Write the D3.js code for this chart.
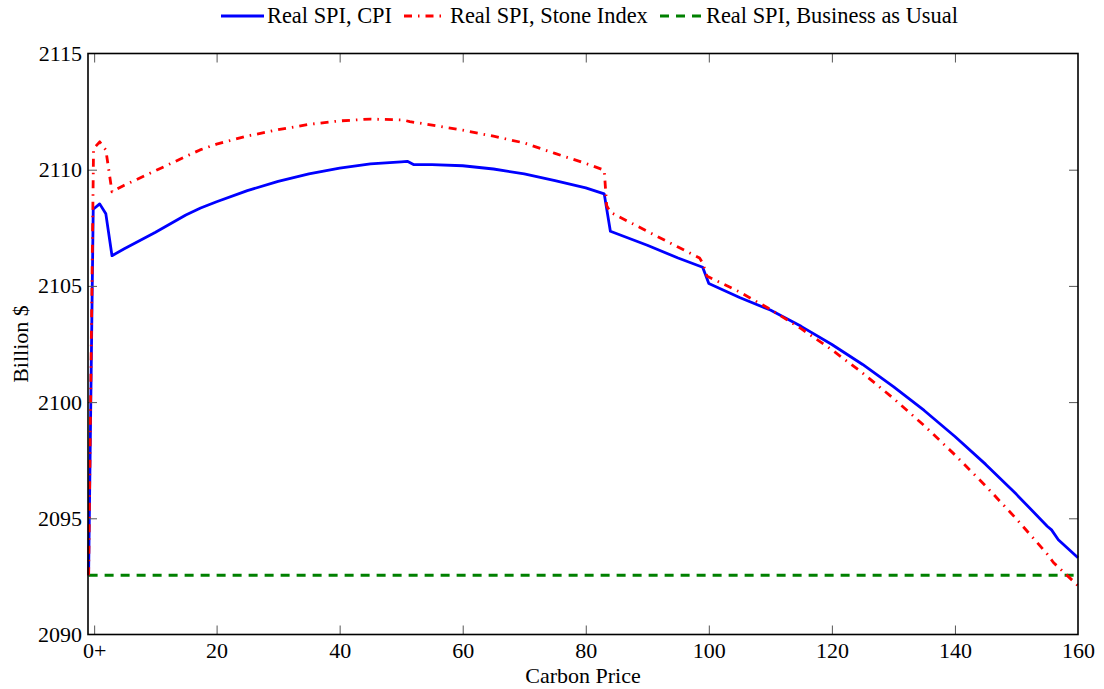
<!DOCTYPE html>
<html>
<head>
<meta charset="utf-8">
<script src="https://cdn.jsdelivr.net/npm/d3@7"></script>
<style>
  html, body { margin: 0; padding: 0; background: #fff; }
  svg text { font-family: "Liberation Serif", "Times New Roman", serif; fill: #000; }
</style>
</head>
<body>
<svg id="chart" width="1104" height="689"></svg>
<script>
// Carbon price (x) and welfare in billions of dollars (y)
const cpiPrice = [-0.8, -0.05, 1, 2, 3, 5, 10, 15, 17.4, 20, 25, 30, 35, 40, 45, 50, 51, 52, 55, 60, 65, 70, 75, 80, 83, 84, 90, 95, 99, 100,
  105, 110, 115, 120, 125, 130, 135, 140, 145, 150, 155, 155.7, 156.8, 160];
const cpiValue = [2092.55, 2108.3, 2108.53, 2108.1, 2106.3, 2106.6, 2107.3, 2108.05, 2108.35, 2108.62, 2109.1, 2109.5, 2109.82, 2110.07, 2110.25, 2110.34, 2110.36, 2110.22, 2110.22, 2110.17, 2110.03, 2109.82, 2109.53, 2109.22, 2108.96, 2107.35, 2106.75, 2106.2, 2105.8, 2105.1,
  2104.5, 2103.96, 2103.26, 2102.48, 2101.62, 2100.67, 2099.64, 2098.52, 2097.32, 2096.03, 2094.66, 2094.5, 2094.08, 2093.3];

const stonePrice = [-0.8, 0, 1, 2, 3, 5, 10, 15, 17.3, 20, 25, 30, 35, 40, 45, 50.3, 51.4, 54, 60, 65, 70, 75, 80, 83, 83.4, 84, 90, 95, 98.5, 99, 99.7, 100,
  105, 110, 115, 120, 125, 130, 135, 140, 145, 150, 155, 156, 160];
const stoneValue = [2092.55, 2110.9, 2111.2, 2110.85, 2109.05, 2109.33, 2109.95, 2110.57, 2110.85, 2111.1, 2111.45, 2111.72, 2111.95, 2112.1, 2112.18, 2112.14, 2112.07, 2111.96, 2111.7, 2111.44, 2111.15, 2110.7, 2110.27, 2109.98, 2108.45, 2108.17, 2107.35, 2106.67, 2106.2, 2105.98, 2105.42, 2105.38,
  2104.74, 2103.99, 2103.16, 2102.25, 2101.25, 2100.16, 2098.99, 2097.73, 2096.39, 2094.97, 2093.46, 2093.1, 2092.1];

const bauPrice = [-0.8, 160];
const bauValue = [2092.55, 2092.55];

const xTickValues = [0.1, 20, 40, 60, 80, 100, 120, 140, 160];
const xTickLabels = ["0+", "20", "40", "60", "80", "100", "120", "140", "160"];
const yTickValues = [2090, 2095, 2100, 2105, 2110, 2115];

const seriesNames = ["Real SPI, CPI", "Real SPI, Stone Index", "Real SPI, Business as Usual"];

const svg = d3.select("#chart");
const plotLeft = 88, plotRight = 1078, plotTop = 53.5, plotBottom = 634.5;

const x = d3.scaleLinear().domain([-0.9, 160]).range([plotLeft, plotRight]);
const y = d3.scaleLinear().domain([2090, 2115]).range([plotBottom, plotTop]);

const series = [
  { name: seriesNames[0], xs: cpiPrice, ys: cpiValue, color: "#0000ff", dash: null },
  { name: seriesNames[1], xs: stonePrice, ys: stoneValue, color: "#ff0000", dash: "8,6,1.5,6" },
  { name: seriesNames[2], xs: bauPrice, ys: bauValue, color: "#008000", dash: "9,7" }
];

const line = d3.line().x(d => x(d[0])).y(d => y(d[1]));

const plot = svg.append("g");
// business-as-usual line first, then the two indices on top
[series[2], series[0], series[1]].forEach(s => {
  const pts = s.xs.map((v, i) => [v, s.ys[i]]);
  plot.append("path")
    .attr("d", line(pts))
    .attr("fill", "none")
    .attr("stroke", s.color)
    .attr("stroke-width", 2.8)
    .attr("stroke-linejoin", "round")
    .attr("stroke-dasharray", s.dash);
});

// axes: boxed frame with inward ticks on all four sides
const tickLen = 9;
const xAxisBottom = d3.axisBottom(x).tickValues(xTickValues).tickSizeInner(-tickLen).tickSizeOuter(0)
  .tickFormat((d, i) => xTickLabels[i]).tickPadding(8);
const xAxisTop = d3.axisTop(x).tickValues(xTickValues).tickSizeInner(-tickLen).tickSizeOuter(0).tickFormat("");
const yAxisLeft = d3.axisLeft(y).tickValues(yTickValues).tickSizeInner(-tickLen).tickSizeOuter(0)
  .tickFormat(d3.format("d")).tickPadding(6);
const yAxisRight = d3.axisRight(y).tickValues(yTickValues).tickSizeInner(-tickLen).tickSizeOuter(0).tickFormat("");

function styleAxis(g) {
  g.select(".domain").remove();
  g.selectAll(".tick line").attr("stroke", "#555").attr("stroke-width", 1);
  g.selectAll(".tick text").style("font-size", "22px").style("font-family", "Liberation Serif, serif").attr("fill", "#000");
}

svg.append("g").attr("transform", `translate(0,${plotBottom})`).call(xAxisBottom).call(styleAxis);
svg.append("g").attr("transform", `translate(0,${plotTop})`).call(xAxisTop).call(styleAxis);
svg.append("g").attr("transform", `translate(${plotLeft},0)`).call(yAxisLeft).call(styleAxis);
svg.append("g").attr("transform", `translate(${plotRight},0)`).call(yAxisRight).call(styleAxis);

// corner tick marks would sit on the frame edges
svg.selectAll(".tick").filter(d => d === 160 || d === 2090 || d === 2115).select("line").remove();

svg.append("rect")
  .attr("x", plotLeft).attr("y", plotTop)
  .attr("width", plotRight - plotLeft).attr("height", plotBottom - plotTop)
  .attr("fill", "none").attr("stroke", "#000").attr("stroke-width", 1.6);

// axis titles
svg.append("text")
  .attr("x", (plotLeft + plotRight) / 2).attr("y", 683)
  .attr("text-anchor", "middle").style("font-size", "22px")
  .text("Carbon Price");
svg.append("text")
  .attr("transform", `translate(28,${(plotTop + plotBottom) / 2}) rotate(-90)`)
  .attr("text-anchor", "middle").style("font-size", "22px")
  .text("Billion $");

// legend across the top
const legend = svg.append("g");
const legendY = 16;
const legendStarts = [221, 404, 660];
series.forEach((s, i) => {
  const x0 = legendStarts[i];
  legend.append("line")
    .attr("x1", x0).attr("x2", x0 + 43)
    .attr("y1", legendY).attr("y2", legendY)
    .attr("stroke", s.color).attr("stroke-width", 2.8)
    .attr("stroke-dasharray", s.dash);
  legend.append("text")
    .attr("x", x0 + 46).attr("y", legendY + 7)
    .style("font-size", "22.4px")
    .text(s.name);
});
</script>
</body>
</html>
